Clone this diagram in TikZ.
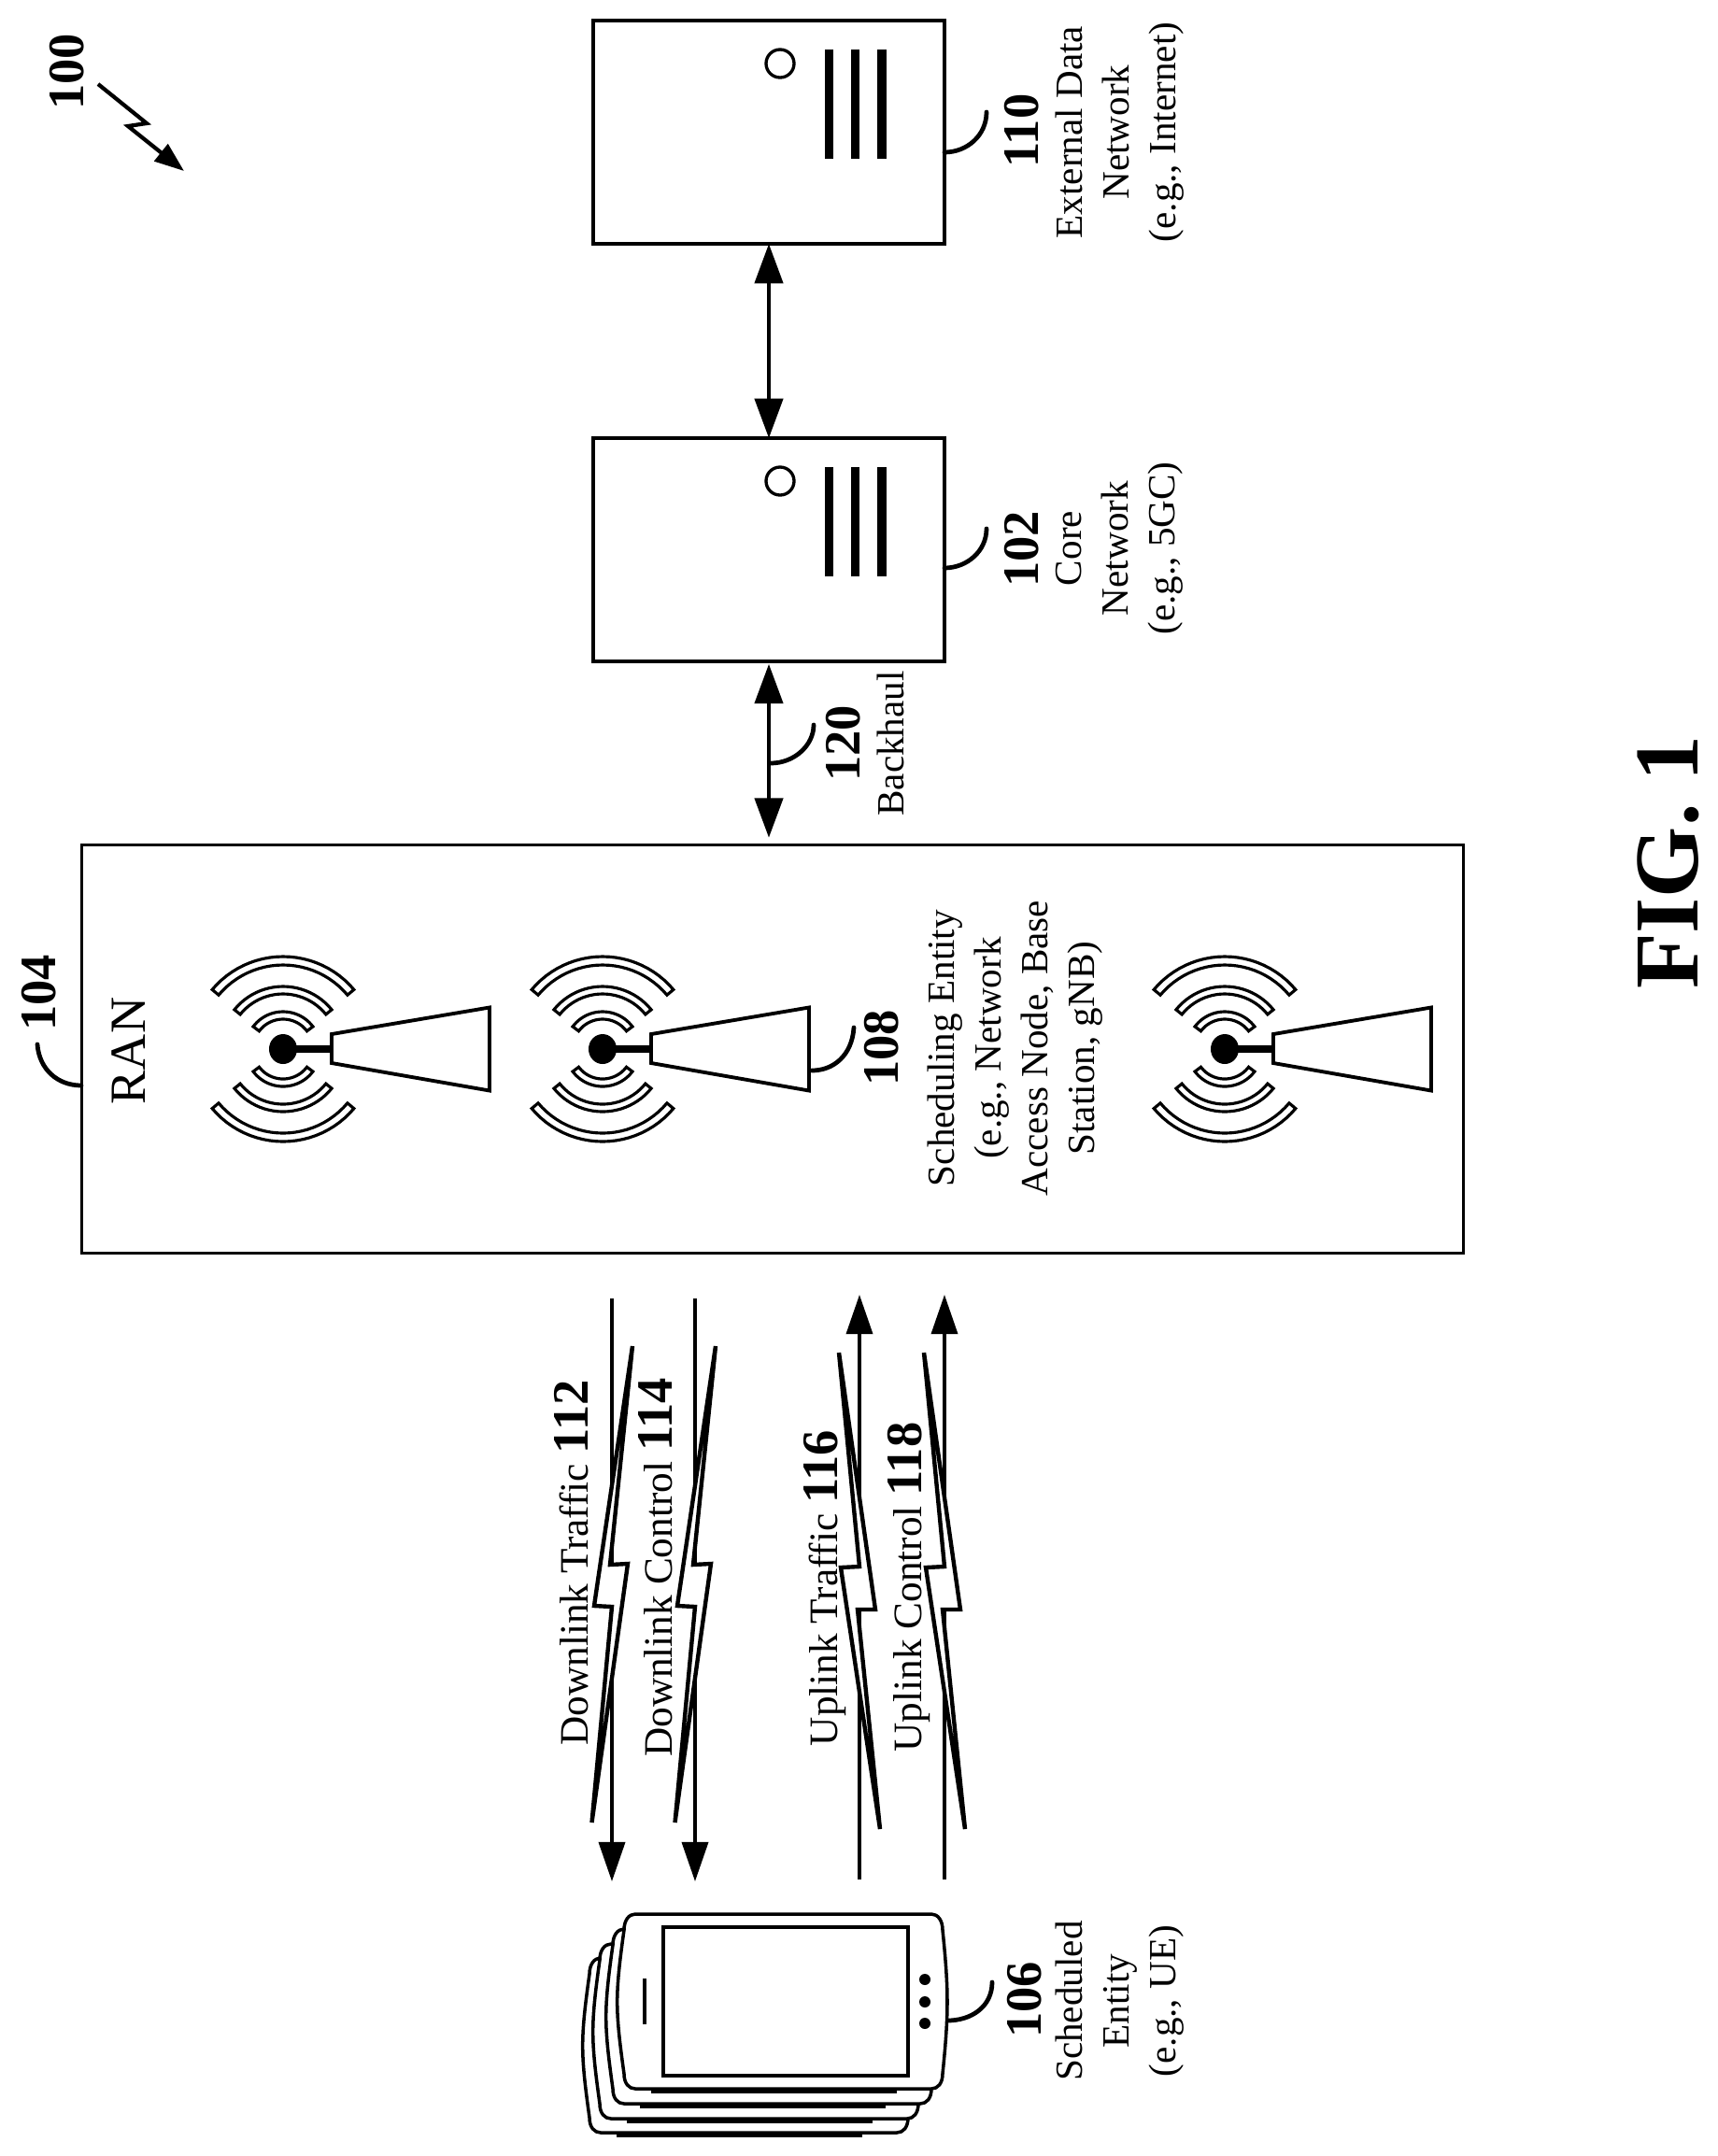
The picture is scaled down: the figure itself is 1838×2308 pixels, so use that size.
\documentclass[tikz,border=0pt]{standalone}
\usepackage{fontspec}
\setmainfont{Liberation Serif}
\usetikzlibrary{arrows.meta}
\newcommand{\refnum}[1]{{\fontsize{15.5}{17}\bfseries\selectfont #1}}
\tikzset{
  x=0.01cm,y=-0.01cm,
  unit/.style={draw,line width=1pt,fill=white,outer sep=0pt,inner sep=0pt},
  lab/.style={rotate=90,align=center,inner sep=0pt,font=\fontsize{11.7}{14.2}\selectfont},
  labbase/.style={rotate=90,anchor=base,inner sep=0pt,font=\fontsize{11.7}{14.2}\selectfont},
  siglab/.style={rotate=90,anchor=base,inner sep=0pt,font=\fontsize{12.3}{14.2}\selectfont},
  numlab/.style={rotate=90,anchor=base,inner sep=0pt,font=\fontsize{15.5}{17}\bfseries\selectfont},
  biarrow/.style={line width=1pt,{Triangle[length=12pt,width=8.6pt]}-{Triangle[length=12pt,width=8.6pt]}},
  sigarrow/.style={line width=1pt,-{Triangle[length=12pt,width=8pt]}},
  leader/.style={line width=1.35pt,line cap=round},
  boltline/.style={draw,fill=white,line width=1.25pt,miter limit=20},
  band/.style={draw,line width=0.9pt,fill=white},
  phoneline/.style={draw,line width=1pt,fill=white},
  serverfront/.pic={
    \draw[line width=0.95pt] (835,68) circle[radius=15];
    \fill (883,53) rectangle (892,170);
    \fill (911,53) rectangle (920,170);
    \fill (939,53) rectangle (949,170);
  },
  antenna/.pic={
    \foreach \ro/\ri/\ha in {99/90/50,67/59/51,40/32/53}{
      \path[band] plot[samples=25,domain=90-\ha:90+\ha] ({\ro*cos(\x)},{\ro*sin(\x)})
        -- plot[samples=25,domain=90+\ha:90-\ha] ({\ri*cos(\x)},{\ri*sin(\x)}) -- cycle;
      \path[band] plot[samples=25,domain=-90-\ha:-90+\ha] ({\ro*cos(\x)},{\ro*sin(\x)})
        -- plot[samples=25,domain=-90+\ha:-90-\ha] ({\ri*cos(\x)},{\ri*sin(\x)}) -- cycle;
    }
    \fill (0,0) ellipse[x radius=15,y radius=16];
    \draw[line width=2.3pt] (10,0) -- (52,0);
    \draw[line width=1.1pt,fill=white,line join=miter] (52,-16) -- (52,15) -- (221,44.5) -- (221,-44.5) -- cycle;
  },
  boltdown/.pic={
    \path[boltline] (677,1441) -- (653,1675) -- (672,1674) -- (633.5,1951)
      -- (655,1720) -- (636,1719) -- cycle;
  },
  boltup/.pic={
    \path[boltline] (898,1448) -- (937,1723) -- (918,1723) -- (942,1958)
      -- (900,1678) -- (920,1677) -- cycle;
  },
  phonebody/.pic={
    \path[phoneline] (680,2049) -- (997,2049)
      .. controls (1004,2049) and (1009,2056) .. (1009,2066)
      .. controls (1012,2095) and (1014,2120) .. (1014,2143)
      .. controls (1014,2166) and (1012,2191) .. (1009,2220)
      .. controls (1009,2230) and (1004,2236) .. (997,2236)
      -- (680,2236)
      .. controls (673,2236) and (668,2230) .. (668,2220)
      .. controls (664,2191) and (660.7,2166) .. (660.7,2143)
      .. controls (660.7,2120) and (664,2095) .. (668,2066)
      .. controls (668,2056) and (673,2049) .. (680,2049) -- cycle;
    \draw[line width=1.6pt] (697,2238) -- (960,2238);
  }
}
\begin{document}
\begin{tikzpicture}
\useasboundingbox (0,0) rectangle (1838,2308);

% boxes
\node[unit,minimum width=3.76cm,minimum height=2.39cm] (en) at (823,141.5) {};
\node[unit,minimum width=3.76cm,minimum height=2.39cm] (cn) at (823,588.5) {};
\node[unit,minimum width=14.78cm,minimum height=4.37cm] (ran) at (827,1123) {};
\pic (s1) at (0,0) {serverfront};
\pic (s2) at (0,447) {serverfront};

% connectors between boxes
\draw[biarrow] (en.south) -- (cn.north);
\draw[biarrow,shorten >=2.2pt,shorten <=0.8pt] (cn.south) -- (cn.south |- ran.north);

% leaders
\coordinate (l110a) at (1011,163); \coordinate (l110b) at (1056,120);
\coordinate (l102a) at (1011,608); \coordinate (l102b) at (1056,566);
\coordinate (l120a) at (825,817);  \coordinate (l120b) at (871,776);
\coordinate (l108a) at (869,1146); \coordinate (l108b) at (914,1100);
\coordinate (l106a) at (1014,2163);\coordinate (l106b) at (1062,2122);
\coordinate (l104a) at (87,1162);  \coordinate (l104b) at (40,1118);
\draw[leader] (l110a) .. controls (1035,163) and (1056,145) .. (l110b);
\draw[leader] (l102a) .. controls (1035,608) and (1056,590) .. (l102b);
\draw[leader] (l120a) .. controls (850,817) and (871,798) .. (l120b);
\draw[leader] (l108a) .. controls (892,1146) and (912,1130) .. (l108b);
\draw[leader] (l106a) .. controls (1040,2163) and (1062,2148) .. (l106b);
\draw[leader] (l104a) .. controls (62,1162) and (42,1145) .. (l104b);

% antennas
\pic (a1) at (303,1123) {antenna};
\pic (a2) at (645,1123) {antenna};
\pic (a3) at (1311,1123) {antenna};

% signals
\coordinate (d1a) at (655,1390); \coordinate (d1b) at (655,2014);
\coordinate (d2a) at (744,1390); \coordinate (d2b) at (744,2014);
\coordinate (u1a) at (920,2012); \coordinate (u1b) at (920,1386);
\coordinate (u2a) at (1011,2012);\coordinate (u2b) at (1011,1386);
\draw[sigarrow] (d1a) -- (d1b);
\draw[sigarrow] (d2a) -- (d2b);
\draw[sigarrow] (u1a) -- (u1b);
\draw[sigarrow] (u2a) -- (u2b);
\pic (b1) at (0,0) {boltdown};
\pic (b2) at (89,0) {boltdown};
\pic (b3) at (0,0) {boltup};
\pic (b4) at (91,0) {boltup};

% phones
\pic (p4) at (-37,47) {phonebody};
\pic (p3) at (-26,32) {phonebody};
\pic (p2) at (-12,16) {phonebody};
\pic (p1) at (0,0) {phonebody};
\draw[line width=1.1pt] (710,2063) rectangle (972,2222);
\draw[line width=1.1pt] (690,2118) -- (690,2167);
\fill (990,2119) circle[radius=6];
\fill (990,2143) circle[radius=6];
\fill (990,2166) circle[radius=6];

% figure-level arrow
\coordinate (z1) at (105,90);
\coordinate (z2) at (197,183);
\draw[line width=1.2pt,-{Triangle[length=9pt,width=6.5pt]}] (z1) -- (157,132) -- (137,135) -- (z2);

% text
\node[numlab] (t100) at (90,77) {100};
\node[numlab] (t104) at (60,1063) {104};
\node[rotate=90,anchor=base,inner sep=0pt,font=\fontsize{15.4}{17}\selectfont] (tran) at (155.7,1125) {RAN};
\node[numlab] (t110) at (1111,140) {110};
\node[lab] (t110b) at (1198.5,141.5) {External Data\\Network\\(e.g., Internet)};
\node[numlab] (t102) at (1111,588) {102};
\node[lab] (t102b) at (1198.5,587) {Core\\Network\\(e.g., 5GC)};
\node[numlab] (t120) at (920,796) {120};
\node[labbase] (t120b) at (967,796) {Backhaul};
\node[numlab] (t108) at (961,1122) {108};
\node[lab] (t108b) at (1086.5,1122) {Scheduling Entity\\(e.g., Network\\Access Node, Base\\Station, gNB)};
\node[numlab] (t106) at (1114,2141) {106};
\node[lab] (t106b) at (1198.5,2142) {Scheduled\\Entity\\(e.g., UE)};
\node[siglab] (t112) at (629,1673) {Downlink Traffic \refnum{112}};
\node[siglab] (t114) at (719,1678) {Downlink Control \refnum{114}};
\node[siglab] (t116) at (896,1700) {Uplink Traffic \refnum{116}};
\node[siglab] (t118) at (986,1699) {Uplink Control \refnum{118}};
\node[rotate=90,anchor=base,inner sep=0pt,font=\fontsize{27.8}{30}\bfseries\selectfont] (tfig) at (1817,923) {FIG. 1};
\end{tikzpicture}
\end{document}
